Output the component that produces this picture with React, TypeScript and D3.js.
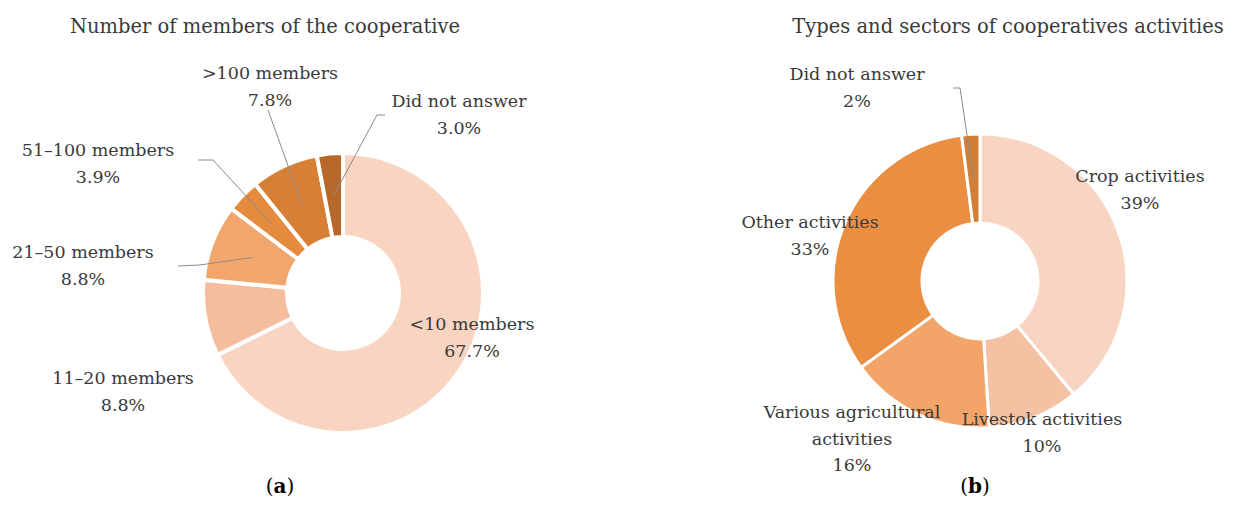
import React from "react";
import * as d3 from "d3";

const membersCategories = ["<10 members", "11–20 members", "21–50 members", "51–100 members", ">100 members", "Did not answer"];
const membersValues = [67.7, 8.8, 8.8, 3.9, 7.8, 3.0];
const membersLabels = ["67.7%", "8.8%", "8.8%", "3.9%", "7.8%", "3.0%"];
const membersColors = ["#F8D4C1", "#F5BD9E", "#F2A66B", "#E48B3E", "#D77F35", "#B7682B"];

const activityCategories = ["Crop activities", "Livestok activities", "Various agricultural activities", "Other activities", "Did not answer"];
const activityValues = [39, 10, 16, 33, 2];
const activityLabels = ["39%", "10%", "16%", "33%", "2%"];
const activityColors = ["#F8D5C2", "#F5C1A3", "#F3A469", "#EA8F42", "#D17E36"];

const FONT = "'DejaVu Serif', serif";
const TEXT = "#3a3a3a";
const LINE = "#8c8c8c";

type LabelSpec = {
  lines: string[];
  x: number;
  y: number;
  leader?: [number, number][];
};

function Donut({
  cx, cy, R, r, values, colors, labels, gap,
}: {
  cx: number; cy: number; R: number; r: number; values: number[]; colors: string[]; labels: LabelSpec[]; gap: number;
}) {
  const pie = d3.pie<number>().sort(null).value((d) => d).startAngle(0).endAngle(2 * Math.PI);
  const arcs = pie(values);
  const arc = d3.arc<d3.PieArcDatum<number>>().innerRadius(r).outerRadius(R);
  const lineGen = d3.line();
  return (
    <g>
      <g transform={`translate(${cx},${cy})`}>
        {arcs.map((a, i) => (
          <path key={i} d={arc(a) || ""} fill={colors[i]} stroke="#ffffff" strokeWidth={gap} strokeLinejoin="miter" />
        ))}
      </g>
      {labels.map((l, i) => {
        if (!l.leader) return null;
        const c = arc.centroid(arcs[i]);
        const pts: [number, number][] = [...l.leader, [cx + c[0], cy + c[1]]];
        return <path key={"l" + i} d={lineGen(pts) || ""} fill="none" stroke={LINE} strokeWidth={1} />;
      })}
      {labels.map((l, i) => (
        <text key={"t" + i} x={l.x} y={l.y} textAnchor="middle" fontFamily={FONT} fontSize={17.5} fill={TEXT}>
          {l.lines.map((s, j) => (
            <tspan key={j} x={l.x} dy={j === 0 ? 0 : 26.5}>{s}</tspan>
          ))}
        </text>
      ))}
    </g>
  );
}

export default function App() {
  const membersLabelSpecs: LabelSpec[] = [
    { lines: [membersCategories[0], membersLabels[0]], x: 472, y: 330 },
    { lines: [membersCategories[1], membersLabels[1]], x: 123, y: 384 },
    { lines: [membersCategories[2], membersLabels[2]], x: 83, y: 258, leader: [[178, 266], [200, 265]] },
    { lines: [membersCategories[3], membersLabels[3]], x: 98, y: 156, leader: [[198, 160], [213, 160]] },
    { lines: [membersCategories[4], membersLabels[4]], x: 270, y: 79, leader: [[268, 110]] },
    { lines: [membersCategories[5], membersLabels[5]], x: 459, y: 107, leader: [[385, 115], [377, 115]] },
  ];
  const activityLabelSpecs: LabelSpec[] = [
    { lines: [activityCategories[0], activityLabels[0]], x: 1140, y: 182 },
    { lines: [activityCategories[1], activityLabels[1]], x: 1042, y: 425 },
    { lines: ["Various agricultural", "activities", activityLabels[2]], x: 852, y: 418 },
    { lines: [activityCategories[3], activityLabels[3]], x: 810, y: 228 },
    { lines: [activityCategories[4], activityLabels[4]], x: 857, y: 80, leader: [[953, 88], [960, 88]] },
  ];
  return (
    <svg width={1234} height={507} style={{ position: "absolute", left: 0, top: 0, background: "#ffffff" }}>
      <text x={265} y={33} textAnchor="middle" fontFamily={FONT} fontSize={19.5} fill={TEXT}>
        Number of members of the cooperative
      </text>
      <text x={1008} y={33} textAnchor="middle" fontFamily={FONT} fontSize={19.5} fill={TEXT}>
        Types and sectors of cooperatives activities
      </text>
      <Donut cx={343} cy={293} R={140} r={56} values={membersValues} colors={membersColors} labels={membersLabelSpecs} gap={4} />
      <Donut cx={980} cy={281} R={147} r={58} values={activityValues} colors={activityColors} labels={activityLabelSpecs} gap={3} />
      <text x={280} y={493} textAnchor="middle" fontFamily={FONT} fontSize={20} fill="#000000">
        (<tspan fontWeight="bold">a</tspan>)
      </text>
      <text x={975} y={493} textAnchor="middle" fontFamily={FONT} fontSize={20} fill="#000000">
        (<tspan fontWeight="bold">b</tspan>)
      </text>
    </svg>
  );
}
